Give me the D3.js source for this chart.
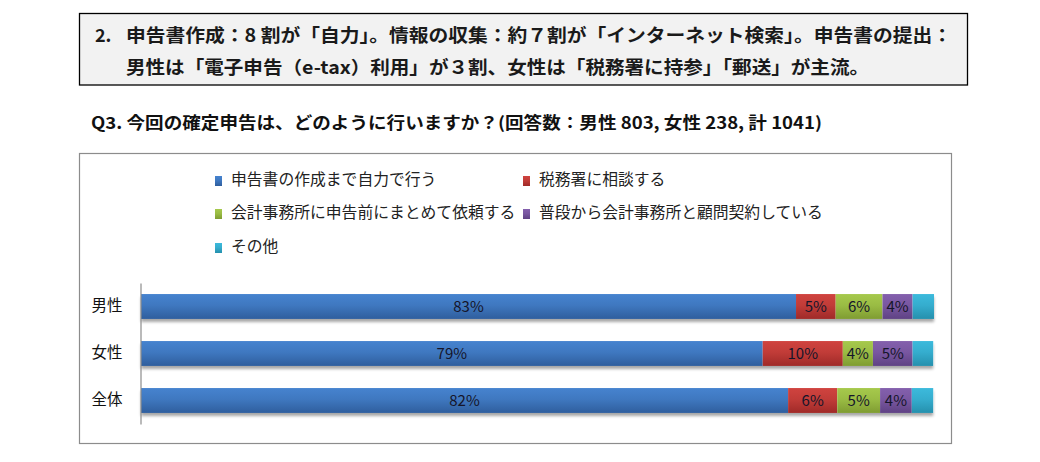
<!DOCTYPE html>
<html>
<head>
<meta charset="utf-8">
<script src="https://cdn.jsdelivr.net/npm/d3@7"></script>
<style>
  html, body { margin: 0; padding: 0; background: #fff; }
  svg { display: block; }
  text { font-family: "Noto Sans CJK JP", "Noto Sans", sans-serif; }
</style>
</head>
<body>
<svg id="chart" width="1040" height="462"></svg>
<script>
// ---- data ----
const categories = ["男性", "女性", "全体"];
const seriesNames = [
  "申告書の作成まで自力で行う",
  "税務署に相談する",
  "会計事務所に申告前にまとめて依頼する",
  "普段から会計事務所と顧問契約している",
  "その他"
];
const jiriki   = [82.6, 78.4, 81.6];
const zeimusho = [5.0, 10.1, 6.2];
const kaikei   = [5.9, 3.8, 5.4];
const komon    = [3.8, 5.0, 4.0];
const sonota   = [2.7, 2.6, 2.7];
const jirikiLabels   = ["83%", "79%", "82%"];
const zeimushoLabels = ["5%", "10%", "6%"];
const kaikeiLabels   = ["6%", "4%", "5%"];
const komonLabels    = ["4%", "5%", "4%"];
const sonotaLabels   = ["", "", ""];
const titleLine1 = "申告書作成：8 割が「自力」。情報の収集：約７割が「インターネット検索」。申告書の提出：";
const titleLine2 = "男性は「電子申告（e-tax）利用」が３割、女性は「税務署に持参」「郵送」が主流。";
const subtitle = "Q3.  今回の確定申告は、どのように行いますか？(回答数：男性 803,  女性 238,  計 1041)";

const seriesValues = [jiriki, zeimusho, kaikei, komon, sonota];
const seriesLabels = [jirikiLabels, zeimushoLabels, kaikeiLabels, komonLabels, sonotaLabels];
const colors = [
  ["#4683cf", "#2f5e9d"],
  ["#d0433f", "#9f2a28"],
  ["#a6c94c", "#7f9c32"],
  ["#8460ad", "#5f4284"],
  ["#3cbadc", "#2590ad"]
];

const svg = d3.select("#chart");
const defs = svg.append("defs");
colors.forEach((c, i) => {
  const g = defs.append("linearGradient").attr("id", "grad" + i)
    .attr("x1", 0).attr("y1", 0).attr("x2", 0).attr("y2", 1);
  g.append("stop").attr("offset", "0%").attr("stop-color", c[0]);
  g.append("stop").attr("offset", "45%").attr("stop-color", d3.interpolateRgb(c[0], c[1])(0.3));
  g.append("stop").attr("offset", "100%").attr("stop-color", c[1]);
});
const f = defs.append("filter").attr("id", "shadow")
  .attr("x", "-5%").attr("y", "-20%").attr("width", "110%").attr("height", "160%");
f.append("feGaussianBlur").attr("in", "SourceAlpha").attr("stdDeviation", 1.5).attr("result", "b");
f.append("feOffset").attr("in", "b").attr("dx", 0).attr("dy", 2.5).attr("result", "o");
f.append("feComponentTransfer").attr("in", "o").attr("result", "s")
  .append("feFuncA").attr("type", "linear").attr("slope", 0.35);
const fm = f.append("feMerge");
fm.append("feMergeNode").attr("in", "s");
fm.append("feMergeNode").attr("in", "SourceGraphic");

// ---- title box ----
svg.append("rect").attr("x", 79.5).attr("y", 13.5).attr("width", 888).attr("height", 71.5)
  .attr("fill", "#f2f2f2").attr("stroke", "#000").attr("stroke-width", 1.3);
svg.append("text").attr("x", 95).attr("y", 41.5).attr("font-size", 18).attr("font-weight", "bold")
  .attr("fill", "#1a1a1a").text("2.");
svg.append("text").attr("x", 126).attr("y", 41.5).attr("font-size", 18).attr("font-weight", "bold")
  .attr("fill", "#1a1a1a").attr("textLength", 826).attr("lengthAdjust", "spacingAndGlyphs").text(titleLine1);
svg.append("text").attr("x", 126).attr("y", 73.5).attr("font-size", 18).attr("font-weight", "bold")
  .attr("fill", "#1a1a1a").attr("textLength", 743).attr("lengthAdjust", "spacingAndGlyphs").text(titleLine2);

// subtitle
svg.append("text").attr("x", 91).attr("y", 129).attr("font-size", 16.5).attr("font-weight", "bold")
  .attr("fill", "#111").attr("textLength", 731).attr("lengthAdjust", "spacingAndGlyphs").text(subtitle);

// plot frame
svg.append("rect").attr("x", 79.5).attr("y", 153.5).attr("width", 872).attr("height", 290)
  .attr("fill", "#fff").attr("stroke", "#8c8c8c").attr("stroke-width", 1.2);

// ---- legend ----
const legendPos = [[215, 179], [523, 179], [215, 212], [523, 212], [215, 246]];
seriesNames.forEach((name, i) => {
  const [lx, ly] = legendPos[i];
  svg.append("rect").attr("x", lx).attr("y", ly - 3).attr("width", 7).attr("height", 10)
    .attr("fill", "url(#grad" + i + ")");
  svg.append("text").attr("x", lx + 16).attr("y", ly).attr("dy", "0.35em")
    .attr("font-size", 15.8).attr("fill", "#222").text(name);
});

// ---- scales ----
const x = d3.scaleLinear().domain([0, 100]).range([141, 934]);
const y = d3.scaleBand().domain(categories).range([283, 424]).paddingInner(0.47).paddingOuter(0.235);

// stacked data
const rows = categories.map((c, ci) => {
  const o = { cat: c };
  seriesValues.forEach((arr, si) => { o["s" + si] = arr[ci]; });
  return o;
});
const stack = d3.stack().keys(seriesValues.map((_, i) => "s" + i));
const stacked = stack(rows);

// shadow layer (whole bar)
const gBars = svg.append("g");
gBars.selectAll("rect.shadow").data(rows).join("rect")
  .attr("class", "shadow")
  .attr("x", x(0)).attr("y", d => y(d.cat))
  .attr("width", d => x(d3.sum(seriesValues.map((_, i) => d["s" + i]))) - x(0))
  .attr("height", y.bandwidth()).attr("fill", "#fff").attr("filter", "url(#shadow)");

stacked.forEach((layer, si) => {
  gBars.selectAll("rect.s" + si).data(layer).join("rect")
    .attr("class", "s" + si)
    .attr("x", d => x(d[0]))
    .attr("y", d => y(d.data.cat))
    .attr("width", d => x(d[1]) - x(d[0]))
    .attr("height", y.bandwidth())
    .attr("fill", "url(#grad" + si + ")");
  gBars.selectAll("text.l" + si).data(layer).join("text")
    .attr("class", "l" + si)
    .attr("x", d => (x(d[0]) + x(d[1])) / 2)
    .attr("y", d => y(d.data.cat) + y.bandwidth() / 2)
    .attr("dy", "0.36em")
    .attr("text-anchor", "middle")
    .attr("font-family", "DejaVu Sans, sans-serif")
    .attr("font-size", 15)
    .attr("fill", "#15152a")
    .text((d, i) => seriesLabels[si][i]);
});

// ---- axis ----
const yAxis = d3.axisLeft(y).tickSize(0).tickPadding(18);
const ga = svg.append("g").attr("transform", "translate(140.5,0)").call(yAxis);
ga.select(".domain").attr("stroke", "#8c8c8c").attr("stroke-width", 1.2);
ga.selectAll(".tick text").attr("font-size", 15.5).attr("fill", "#111")
  .attr("font-family", "Noto Sans CJK JP, sans-serif");
</script>
</body>
</html>
